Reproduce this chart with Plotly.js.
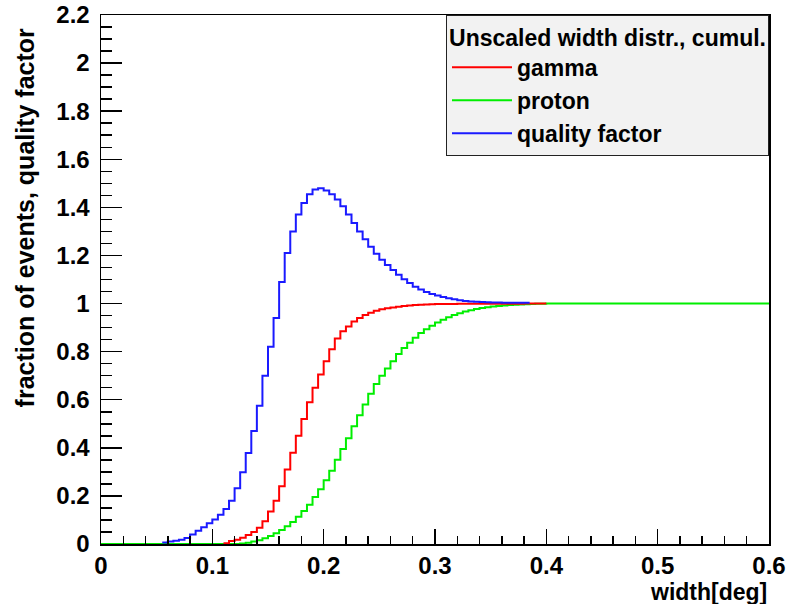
<!DOCTYPE html>
<html>
<head>
<meta charset="utf-8">
<script src="https://cdn.plot.ly/plotly-3.0.1.min.js"></script>
<style>html,body{margin:0;padding:0;background:#fff;}#chart{width:791px;height:604px;}</style>
</head>
<body>
<div id="chart"></div>
<script>
// ---- data (bin left edges and cumulative values) ----
const gammaX = [0.110,0.115,0.120,0.125,0.130,0.135,0.140,0.145,0.150,0.155,0.160,0.165,0.170,0.175,0.180,0.185,0.190,0.195,0.200,0.205,0.210,0.215,0.220,0.225,0.230,0.235,0.240,0.245,0.250,0.255,0.260,0.265,0.270,0.275,0.280,0.285,0.290,0.295,0.300,0.310,0.320,0.340,0.360,0.380,0.400];
const gammaY = [0.003,0.012,0.018,0.026,0.037,0.050,0.068,0.095,0.135,0.180,0.240,0.310,0.380,0.450,0.520,0.590,0.650,0.705,0.760,0.810,0.855,0.885,0.905,0.925,0.940,0.952,0.962,0.970,0.976,0.980,0.984,0.987,0.990,0.992,0.994,0.995,0.996,0.997,0.998,0.998,0.999,0.999,0.999,1.000,1.000];

const protonX = [0.000,0.125,0.130,0.135,0.140,0.145,0.150,0.155,0.160,0.165,0.170,0.175,0.180,0.185,0.190,0.195,0.200,0.205,0.210,0.215,0.220,0.225,0.230,0.235,0.240,0.245,0.250,0.255,0.260,0.265,0.270,0.275,0.280,0.285,0.290,0.295,0.300,0.305,0.310,0.315,0.320,0.325,0.330,0.335,0.340,0.345,0.350,0.355,0.360,0.365,0.370,0.375,0.380,0.385,0.390,0.395,0.400,0.600];
const protonY = [0.000,0.002,0.005,0.010,0.016,0.024,0.033,0.045,0.058,0.074,0.092,0.113,0.137,0.163,0.195,0.228,0.265,0.305,0.350,0.395,0.440,0.490,0.535,0.580,0.625,0.665,0.700,0.730,0.760,0.790,0.815,0.837,0.858,0.877,0.893,0.908,0.921,0.933,0.943,0.952,0.960,0.967,0.972,0.977,0.981,0.985,0.988,0.990,0.992,0.994,0.995,0.996,0.997,0.998,0.999,0.999,1.000,1.000];

const qualityX = [0.055,0.060,0.065,0.070,0.075,0.080,0.085,0.090,0.095,0.100,0.105,0.110,0.115,0.120,0.125,0.130,0.135,0.140,0.145,0.150,0.155,0.160,0.165,0.170,0.175,0.180,0.185,0.190,0.195,0.200,0.205,0.210,0.215,0.220,0.225,0.230,0.235,0.240,0.245,0.250,0.255,0.260,0.265,0.270,0.275,0.280,0.285,0.290,0.295,0.300,0.305,0.310,0.315,0.320,0.325,0.330,0.335,0.340,0.345,0.350,0.355,0.360,0.365,0.370,0.375,0.380,0.385];
const qualityY = [0.006,0.010,0.014,0.018,0.025,0.040,0.055,0.070,0.086,0.102,0.122,0.146,0.180,0.232,0.298,0.378,0.470,0.575,0.700,0.820,0.940,1.090,1.210,1.300,1.370,1.418,1.455,1.474,1.480,1.470,1.455,1.433,1.405,1.370,1.335,1.300,1.267,1.236,1.207,1.182,1.160,1.140,1.120,1.101,1.085,1.070,1.058,1.048,1.040,1.033,1.027,1.022,1.018,1.014,1.011,1.009,1.007,1.006,1.005,1.004,1.004,1.003,1.003,1.003,1.003,1.003,1.003];

const seriesNames = ['gamma', 'proton', 'quality factor'];
const legendTitle = 'Unscaled width distr., cumul.';
const xTitle = 'width[deg]';
const yTitle = 'fraction of events, quality factor';

const FONT = 'Liberation Sans, Arial, Helvetica, sans-serif';

function trace(x, y, name, color, group) {
  return {
    x: x, y: y, name: name, type: 'scatter', mode: 'lines',
    line: {shape: 'hv', color: color, width: 2},
    legendgroup: group, hoverinfo: 'skip'
  };
}

const data = [
  trace(protonX, protonY, seriesNames[1], '#00ee00', 'b'),
  trace(gammaX, gammaY, seriesNames[0], '#ff0000', 'a'),
  trace(qualityX, qualityY, seriesNames[2], '#1a1aff', 'c')
];
data[0].legendrank = 2; data[1].legendrank = 1; data[2].legendrank = 3;

const tickFont = {family: FONT, size: 24, color: '#000', weight: 'bold'};

const layout = {
  width: 791, height: 604,
  margin: {l: 101, r: 22, t: 15, b: 60},
  paper_bgcolor: '#fff', plot_bgcolor: '#fff',
  showlegend: true,
  legend: {
    x: 1, xanchor: 'right', y: 1, yanchor: 'top',
    bgcolor: '#f2f2f2', bordercolor: '#222', borderwidth: 1,
    font: {family: FONT, size: 23, color: '#000', weight: 'bold'},
    title: {text: legendTitle, side: 'top center', font: {family: FONT, size: 23, color: '#000', weight: 'bold'}},
    tracegroupgap: 9, traceorder: 'normal', itemwidth: 60
  },
  xaxis: {
    range: [0, 0.6], dtick: 0.1, tick0: 0,
    ticks: 'inside', ticklen: 15, tickwidth: 1.5, tickcolor: '#000',
    minor: {dtick: 0.02, ticks: 'inside', ticklen: 8, tickwidth: 1.5, tickcolor: '#000', showgrid: false},
    showgrid: false, zeroline: false,
    showline: true, linecolor: '#000', linewidth: 1.5, mirror: true,
    tickfont: tickFont, ticklabelstandoff: 0
  },
  yaxis: {
    range: [0, 2.2], dtick: 0.2, tick0: 0,
    ticks: 'inside', ticklen: 21, tickwidth: 1.5, tickcolor: '#000',
    minor: {dtick: 0.05, ticks: 'inside', ticklen: 11, tickwidth: 1.5, tickcolor: '#000', showgrid: false},
    showgrid: false, zeroline: false,
    showline: true, linecolor: '#000', linewidth: 1.5, mirror: true,
    tickfont: tickFont, ticklabelstandoff: 5
  },
  annotations: [
    {text: xTitle, xref: 'paper', yref: 'paper', x: 1, y: -0.091, xanchor: 'right', yanchor: 'middle',
     showarrow: false, font: {family: FONT, size: 23, color: '#000', weight: 'bold'}},
    {text: yTitle, xref: 'paper', yref: 'paper', x: -0.114, y: 0.98, xanchor: 'center', yanchor: 'top',
     textangle: -90, showarrow: false, font: {family: FONT, size: 25, color: '#000', weight: 'bold'}}
  ]
};

Plotly.newPlot('chart', data, layout, {displayModeBar: false, staticPlot: true});
</script>
</body>
</html>
